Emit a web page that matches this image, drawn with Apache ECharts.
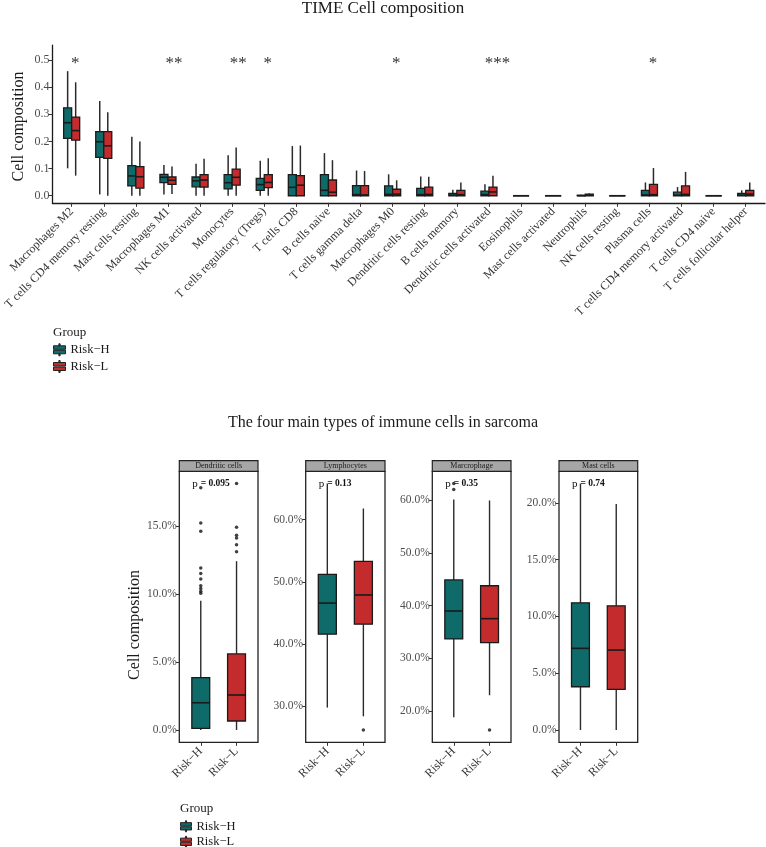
<!DOCTYPE html>
<html><head><meta charset="utf-8">
<script src="https://cdn.jsdelivr.net/npm/echarts@6/dist/echarts.min.js"></script>
<style>html,body{margin:0;padding:0;background:#fff}#c{width:766px;height:847px}</style>
</head><body><div id="c"></div>
<script>
// ---------------- DATA ----------------
const topCategories = ['Macrophages M2','T cells CD4 memory resting','Mast cells resting','Macrophages M1','NK cells activated','Monocytes','T cells regulatory (Tregs)','T cells CD8','B cells naive','T cells gamma delta','Macrophages M0','Dendritic cells resting','B cells memory','Dendritic cells activated','Eosinophils','Mast cells activated','Neutrophils','NK cells resting','Plasma cells','T cells CD4 memory activated','T cells CD4 naive','T cells follicular helper'];
// [min, q1, median, q3, max]
const topRiskH = [[0.101,0.211,0.269,0.324,0.459],[0.005,0.141,0.199,0.236,0.349],[0,0.036,0.073,0.111,0.217],[0.005,0.048,0.068,0.079,0.113],[0,0.033,0.055,0.069,0.118],[0,0.025,0.048,0.078,0.149],[0,0.020,0.041,0.064,0.129],[0,0,0.031,0.078,0.183],[0,0,0.020,0.078,0.157],[0,0,0.004,0.037,0.093],[0,0,0.005,0.036,0.079],[0,0,0.004,0.027,0.071],[0,0,0.002,0.009,0.022],[0,0,0.004,0.017,0.042],[0,0,0,0,0.001],[0,0,0,0,0],[0,0,0,0.002,0.004],[0,0,0,0,0.001],[0,0,0.003,0.020,0.049],[0,0,0.002,0.013,0.032],[0,0,0,0,0],[0,0,0.002,0.009,0.020]];
const topRiskL = [[0.074,0.205,0.240,0.290,0.418],[0,0.138,0.184,0.236,0.308],[0,0.028,0.070,0.107,0.200],[0.006,0.042,0.057,0.069,0.108],[0,0.032,0.058,0.078,0.136],[0,0.039,0.068,0.098,0.178],[0,0.030,0.049,0.078,0.138],[0,0,0.039,0.074,0.185],[0,0,0.013,0.058,0.131],[0,0,0.003,0.037,0.091],[0,0,0.006,0.024,0.057],[0,0,0.005,0.032,0.070],[0,0,0.004,0.020,0.049],[0,0,0.014,0.032,0.074],[0,0,0,0,0.001],[0,0,0,0,0.001],[0,0,0.002,0.006,0.009],[0,0,0,0,0.001],[0,0,0.004,0.042,0.102],[0,0,0.005,0.036,0.088],[0,0,0,0,0],[0,0,0.006,0.020,0.049]];
const topSignif = ['*','','','**','','**','*','','','','*','','','***','','','','','*','','',''];
const topYTicks = [0, 0.1, 0.2, 0.3, 0.4, 0.5];

const groups = ['Risk\u2212H','Risk\u2212L'];
const panelNames = ['Dendritic cells','Lymphocytes','Marcrophage','Mast cells'];
// values in percent: [min, q1, median, q3, max]
const panelBoxH = [[0,0.12,2.0,3.85,9.5],[29.8,41.6,46.6,51.2,65.8],[18.8,33.7,39.0,44.9,60.2],[0,3.81,7.19,11.2,21.7]];
const panelBoxL = [[0,0.66,2.57,5.59,12.4],[28.4,43.2,47.9,53.3,61.8],[23.0,33.0,37.55,43.8,60.0],[0,3.58,7.04,10.94,19.9]];
const panelOutH = [[10.05,10.2,10.4,10.6,11.1,11.5,11.9,14.6,15.2,17.8],[],[62.1,63.2],[]];
const panelOutL = [[13.1,13.6,14.1,14.3,14.9,18.1],[26.2],[16.4],[]];
const panelPValues = ['0.095','0.13','0.35','0.74'];
const panelYTicks = [[0,5,10,15],[30,40,50,60],[20,30,40,50,60],[0,5,10,15,20]];

// ---------------- STYLE / LAYOUT ----------------
const FONT = 'Liberation Serif';
const TEAL = '#0F6B6A', RED = '#C42B2C';
const panelLeft = [179.3, 305.7, 432.3, 559];
const panelWidth = [78.7, 79.3, 78.7, 78.7];
const panelTop = 471.3, panelHeight = 271, stripH = 10.6;
const legendIcon = 'path://M5.4,0L6.6,0L6.6,2L5.4,2Z M0,2L12,2L12,5.5L0,5.5Z M0,6.5L12,6.5L12,10L0,10Z M5.4,10L6.6,10L6.6,12L5.4,12Z';

function boxRenderer(offset, width, lw) {
  return function (params, api) {
    const x = api.value(0);
    const unit = api.size([1, 0])[0];
    const cx = api.coord([x + offset, 0])[0];
    const hw = unit * width / 2;
    const y = i => api.coord([x, api.value(i)])[1];
    const yMin = y(1), yQ1 = y(2), yMed = y(3), yQ3 = y(4), yMax = y(5);
    return { type: 'group', children: [
      { type: 'line', shape: { x1: cx, y1: yQ3, x2: cx, y2: yMax }, style: { stroke: '#2b2b2b', lineWidth: lw } },
      { type: 'line', shape: { x1: cx, y1: yQ1, x2: cx, y2: yMin }, style: { stroke: '#2b2b2b', lineWidth: lw } },
      { type: 'rect', shape: { x: cx - hw, y: yQ3, width: 2 * hw, height: Math.max(yQ1 - yQ3, 0) }, style: { fill: api.visual('color'), stroke: '#1a1a1a', lineWidth: 1.3 } },
      { type: 'line', shape: { x1: cx - hw, y1: yMed, x2: cx + hw, y2: yMed }, style: { stroke: '#1a1a1a', lineWidth: 1.6 } }
    ]};
  };
}

const grids = [{ left: 52.4, top: 45.1, width: 712.6, height: 157.7, outerBoundsMode: 'none', containLabel: false }];
const xAxes = [{
  type: 'value', gridIndex: 0, min: -0.6, max: 21.6,
  axisLine: { show: true, onZero: false, lineStyle: { color: '#1a1a1a', width: 1.3 } },
  axisTick: { show: true, length: 4, customValues: topCategories.map((_, i) => i), lineStyle: { color: '#333' } },
  axisLabel: { show: true, customValues: topCategories.map((_, i) => i), formatter: v => topCategories[Math.round(v)], rotate: 45, margin: 7, fontFamily: FONT, fontSize: 12, color: '#333' },
  splitLine: { show: false }
}];
const yAxes = [{
  type: 'value', gridIndex: 0, min: -0.026, max: 0.555,
  axisLine: { show: true, onZero: false, lineStyle: { color: '#1a1a1a', width: 1.3 } },
  axisTick: { show: true, length: 4, customValues: topYTicks, lineStyle: { color: '#333' } },
  axisLabel: { show: true, customValues: topYTicks, formatter: v => v.toFixed(1), margin: 3, fontFamily: FONT, fontSize: 12, color: '#4d4d4d' },
  splitLine: { show: false }
}];

const series = [
  { type: 'custom', name: groups[0], xAxisIndex: 0, yAxisIndex: 0, itemStyle: { color: TEAL }, renderItem: boxRenderer(-0.125, 0.25, 1.5), encode: { x: 0, y: [1,2,3,4,5] }, data: topRiskH.map((d, i) => [i].concat(d)) },
  { type: 'custom', name: groups[1], xAxisIndex: 0, yAxisIndex: 0, itemStyle: { color: RED }, renderItem: boxRenderer(0.125, 0.25, 1.5), encode: { x: 0, y: [1,2,3,4,5] }, data: topRiskL.map((d, i) => [i].concat(d)) },
  { type: 'custom', name: 'signif', xAxisIndex: 0, yAxisIndex: 0, silent: true,
    renderItem: (params, api) => {
      const s = topSignif[params.dataIndex];
      if (!s) return null;
      const p = api.coord([api.value(0), api.value(1)]);
      return { type: 'text', x: p[0] + 1 + 2.5 * s.length, y: p[1], style: { text: s, font: '17px "Liberation Serif"', fill: '#333', align: 'center', verticalAlign: 'middle' } };
    },
    data: topSignif.map((s, i) => [i, 0.487]) }
];

const graphics = [
  { type: 'text', x: 19, y: 126.5, rotation: Math.PI / 2, style: { text: 'Cell composition', font: '16px "Liberation Serif"', fill: '#1a1a1a', align: 'center', verticalAlign: 'middle' } },
  { type: 'text', x: 134.5, y: 625, rotation: Math.PI / 2, style: { text: 'Cell composition', font: '16px "Liberation Serif"', fill: '#1a1a1a', align: 'center', verticalAlign: 'middle' } }
];

panelNames.forEach((name, k) => {
  const gi = k + 1;
  const boxH = panelBoxH[k], boxL = panelBoxL[k];
  const all = boxH.concat(boxL, panelOutH[k], panelOutL[k]);
  const dMin = Math.min.apply(null, all), dMax = Math.max.apply(null, all);
  const pad = (dMax - dMin) * 0.05;
  grids.push({ left: panelLeft[k], top: panelTop, width: panelWidth[k], height: panelHeight, show: true, backgroundColor: '#fff', borderColor: '#222', borderWidth: 1.3, outerBoundsMode: 'none', containLabel: false });
  xAxes.push({
    type: 'value', gridIndex: gi, min: -0.6, max: 1.6,
    axisLine: { show: false, onZero: false },
    axisTick: { show: true, length: 3.5, customValues: [0, 1], lineStyle: { color: '#333' } },
    axisLabel: { show: true, customValues: [0, 1], formatter: v => groups[Math.round(v)], rotate: 45, margin: 7, fontFamily: FONT, fontSize: 12, color: '#333' },
    splitLine: { show: false }
  });
  yAxes.push({
    type: 'value', gridIndex: gi, min: dMin - pad, max: dMax + pad,
    axisLine: { show: false, onZero: false },
    axisTick: { show: true, length: 3.5, customValues: panelYTicks[k], lineStyle: { color: '#333' } },
    axisLabel: { show: true, customValues: panelYTicks[k], formatter: v => v.toFixed(1) + '%', margin: 2.5, fontFamily: FONT, fontSize: 11.5, color: '#4d4d4d' },
    splitLine: { show: false }
  });
  series.push(
    { type: 'custom', name: groups[0], xAxisIndex: gi, yAxisIndex: gi, itemStyle: { color: TEAL }, renderItem: boxRenderer(0, 0.5, 1.4), encode: { x: 0, y: [1,2,3,4,5] }, data: [[0].concat(boxH)] },
    { type: 'custom', name: groups[1], xAxisIndex: gi, yAxisIndex: gi, itemStyle: { color: RED }, renderItem: boxRenderer(0, 0.5, 1.4), encode: { x: 0, y: [1,2,3,4,5] }, data: [[1].concat(boxL)] },
    { type: 'scatter', name: 'outliers', xAxisIndex: gi, yAxisIndex: gi, symbol: 'circle', symbolSize: 3.5, itemStyle: { color: '#111' }, silent: true,
      data: panelOutH[k].map(v => [0, v]).concat(panelOutL[k].map(v => [1, v])) },
    { type: 'custom', name: 'pvalue', xAxisIndex: gi, yAxisIndex: gi, silent: true,
      renderItem: (params, api) => {
        const p = api.coord([api.value(0), api.value(1)]);
        return { type: 'text', x: p[0], y: p[1], style: { text: '{a|p}{b|= ' + panelPValues[k] + '}', rich: { a: { fontFamily: FONT, fontSize: 11, fill: '#111', padding: [0, 3, 0, 0] }, b: { fontFamily: FONT, fontSize: 9.5, fontWeight: 'bold', fill: '#111' } }, align: 'left', verticalAlign: 'middle' } };
      },
      data: [[-0.24, dMax]] }
  );
  graphics.push(
    { type: 'rect', shape: { x: panelLeft[k], y: panelTop - stripH, width: panelWidth[k], height: stripH }, style: { fill: '#a6a6a6', stroke: '#222', lineWidth: 1.2 } },
    { type: 'text', x: panelLeft[k] + panelWidth[k] / 2, y: panelTop - stripH / 2, style: { text: name, font: '8px "Liberation Serif"', fill: '#1a1a1a', align: 'center', verticalAlign: 'middle' } }
  );
});

const chart = echarts.init(document.getElementById('c'), null, { renderer: 'canvas' });
chart.setOption({
  backgroundColor: '#fff',
  animation: false,
  textStyle: { fontFamily: FONT },
  title: [
    { text: 'TIME Cell composition', left: 'center', top: 0, padding: 0, textStyle: { fontFamily: FONT, fontSize: 17, fontWeight: 'normal', color: '#1a1a1a' } },
    { text: 'The four main types of immune cells in sarcoma', left: 'center', top: 415, padding: 0, textStyle: { fontFamily: FONT, fontSize: 16, fontWeight: 'normal', color: '#1a1a1a' } },
    { text: 'Group', left: 53, top: 326.5, padding: 0, textStyle: { fontFamily: FONT, fontSize: 13, fontWeight: 'normal', color: '#1a1a1a' } },
    { text: 'Group', left: 180, top: 802, padding: 0, textStyle: { fontFamily: FONT, fontSize: 13, fontWeight: 'normal', color: '#1a1a1a' } }
  ],
  legend: [
    { data: groups, left: 53, top: 343.3, height: 60, orient: 'vertical', padding: 0, itemWidth: 12, itemHeight: 12, itemGap: 3.7, icon: legendIcon, selectedMode: false,
      itemStyle: { borderColor: '#222', borderWidth: 1 }, textStyle: { fontFamily: FONT, fontSize: 12.5, color: '#1a1a1a' } },
    { data: groups, left: 180, top: 819.8, height: 60, orient: 'vertical', padding: 0, itemWidth: 11, itemHeight: 11, itemGap: 2.5, icon: legendIcon, selectedMode: false,
      itemStyle: { borderColor: '#222', borderWidth: 1 }, textStyle: { fontFamily: FONT, fontSize: 12.5, color: '#1a1a1a' } }
  ],
  grid: grids,
  xAxis: xAxes,
  yAxis: yAxes,
  series: series,
  graphic: graphics
});
</script>
</body></html>
